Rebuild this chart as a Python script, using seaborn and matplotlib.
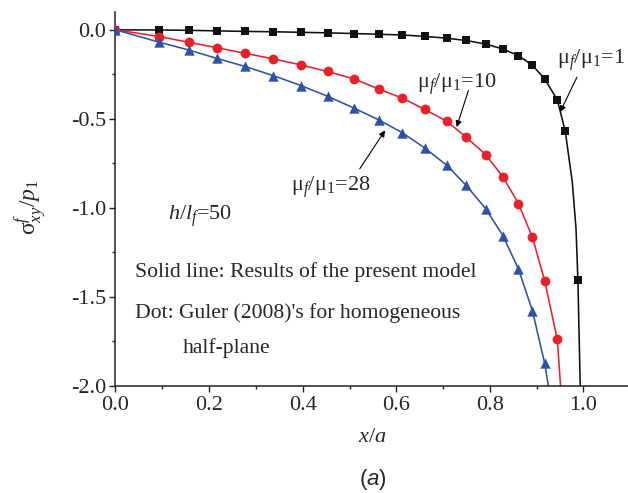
import matplotlib
matplotlib.use("Agg")
import matplotlib.pyplot as plt
import seaborn as sns
import pandas as pd
from matplotlib.ticker import MultipleLocator

# ---- data ----
x_nodes = [0.0, 0.094, 0.156, 0.216, 0.277, 0.337, 0.396, 0.453, 0.510, 0.562, 0.613,
           0.661, 0.708, 0.749, 0.791, 0.828, 0.861, 0.891, 0.917, 0.944, 0.961, 0.988]
y_mu1 = [0.0, -0.001, -0.003, -0.006, -0.009, -0.011, -0.014, -0.017, -0.021, -0.025, -0.029,
         -0.037, -0.047, -0.060, -0.080, -0.108, -0.145, -0.199, -0.276, -0.393, -0.569, -1.405]
y_mu10 = [0.0, -0.038, -0.070, -0.100, -0.132, -0.163, -0.197, -0.234, -0.276, -0.332,
          -0.384, -0.447, -0.514, -0.602, -0.701, -0.826, -0.976, -1.166, -1.409, -1.738]
y_mu28 = [0.0, -0.070, -0.113, -0.160, -0.206, -0.257, -0.313, -0.373, -0.440, -0.505,
          -0.578, -0.664, -0.761, -0.873, -1.004, -1.157, -1.343, -1.579, -1.872]
# model-curve continuation below the last dots
tail_x_mu1 = [0.976, 0.984, 0.988, 0.993]
tail_y_mu1 = [-0.854, -1.116, -1.405, -2.0]
tail_x_mu10 = [0.951]
tail_y_mu10 = [-2.0]
tail_x_mu28 = [0.925]
tail_y_mu28 = [-2.0]

x_ticks = [0.0, 0.2, 0.4, 0.6, 0.8, 1.0]
y_ticks = [0.0, -0.5, -1.0, -1.5, -2.0]

BLACK = "#111111"
RED = "#E8202A"
BLUE = "#2E52A6"

sns.set_theme(style="ticks")
plt.rcParams["font.family"] = ["Liberation Serif", "DejaVu Serif"]
plt.rcParams["mathtext.fontset"] = "custom"
plt.rcParams["mathtext.rm"] = "Liberation Serif"
plt.rcParams["mathtext.it"] = "Liberation Serif:italic"
plt.rcParams["mathtext.sf"] = "Liberation Sans:italic"

fig = plt.figure(figsize=(6.28, 4.93), dpi=100)
W, H = 628.0, 493.0
x0p, y0p = 115.5, 386.0
ax = fig.add_axes([x0p / W, (H - y0p) / H, (W - x0p) / W, 374.0 / H])

def curve(xs, ys, color, tx, ty):
    lx = list(xs) + list(tx)
    ly = list(ys) + list(ty)
    df = pd.DataFrame({"x": lx, "y": ly})
    sns.lineplot(data=df, x="x", y="y", sort=False, estimator=None, color=color,
                 lw=1.15, ax=ax, zorder=2)

n1, n10, n28 = len(y_mu1), len(y_mu10), len(y_mu28)
curve(x_nodes[:n1 - 1], y_mu1[:-1], BLACK, tail_x_mu1, tail_y_mu1)
curve(x_nodes[:n10], y_mu10, RED, tail_x_mu10, tail_y_mu10)
curve(x_nodes[:n28], y_mu28, BLUE, tail_x_mu28, tail_y_mu28)

sns.scatterplot(x=x_nodes[:n1], y=y_mu1, marker="s", s=34, color=BLACK, linewidth=0, ax=ax, zorder=3)
sns.scatterplot(x=x_nodes[:n10], y=y_mu10, marker="o", s=50, color=RED, linewidth=0, ax=ax, zorder=3)
sns.scatterplot(x=x_nodes[:n28], y=y_mu28, marker="^", s=56, color=BLUE, linewidth=0, ax=ax, zorder=4)

ax.set_xlim(0, (W - x0p) / 468.0)
ax.set_ylim(-2.0, 0.1)
ax.set_xticks(x_ticks)
ax.set_yticks(y_ticks)
ax.set_xticklabels([f"{v:.1f}" for v in x_ticks])
ax.set_yticklabels([f"{v:.1f}" for v in y_ticks])
ax.xaxis.set_minor_locator(MultipleLocator(0.1))
ax.yaxis.set_minor_locator(MultipleLocator(0.25))
ax.tick_params(which="major", direction="out", length=4.5, width=1.0, labelsize=16, color="#222222")
ax.tick_params(which="minor", direction="out", length=2.5, width=1.0, color="#222222")
ax.tick_params(axis="x", pad=3)
ax.tick_params(axis="y", pad=2)
for s in ("top", "right"):
    ax.spines[s].set_visible(False)
for s in ("left", "bottom"):
    ax.spines[s].set_linewidth(1.1)
    ax.spines[s].set_color("#222222")
ax.set_xlabel("")
ax.set_ylabel("")

fig.text(31 / W, 1 - 207 / H, r"σ$_{xy}^{f}$/$p_{\rm 1}$", rotation=90, fontsize=17,
         ha="center", va="center")
fig.text(372 / W, 1 - 438 / H, r"$x$/$a$", fontsize=16, ha="center", va="center")
fig.text(373 / W, 1 - 480 / H, r"($\mathsf{a}$)", fontsize=16, ha="center", va="center",
         family="Liberation Sans")

arrow = dict(arrowstyle="-|>", lw=0.8, color="black", mutation_scale=9, shrinkA=0, shrinkB=0)
ax.text(0.943, -0.171, "μ$_f$/μ$_1$=1", fontsize=16, ha="left", va="center", clip_on=False)
ax.annotate("", xy=(0.950, -0.462), xytext=(0.986, -0.266), arrowprops=arrow)
ax.text(0.73, -0.305, "μ$_f$/μ$_1$=10", fontsize=16, ha="center", va="center")
ax.annotate("", xy=(0.729, -0.546), xytext=(0.754, -0.341), arrowprops=arrow)
ax.text(0.46, -0.882, "μ$_f$/μ$_1$=28", fontsize=16, ha="center", va="center")
ax.annotate("", xy=(0.576, -0.565), xytext=(0.522, -0.780), arrowprops=arrow)
ax.text(0.112, -1.045, r"$h$/$l_f$=50", fontsize=16, ha="left", va="center")
ax.text(0.042, -1.358, "Solid line: Results of the present model", fontsize=15.6,
        ha="left", va="center")
ax.text(0.042, -1.588, "Dot: Guler (2008)'s for homogeneous", fontsize=15.6,
        ha="left", va="center")
ax.text(0.144, -1.785, "half-plane", fontsize=15.6, ha="left", va="center")

fig.savefig("out.png", dpi=100)
